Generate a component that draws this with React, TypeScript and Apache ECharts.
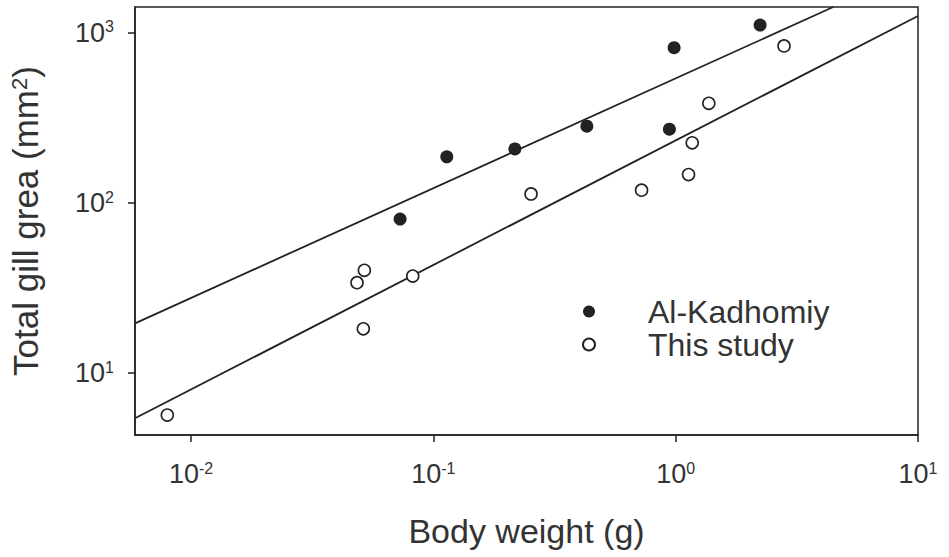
import { useEffect, useRef } from "react";
import * as echarts from "echarts";

// Tick values (powers of ten)
const xTickValues = [0.01, 0.1, 1, 10];
const yTickValues = [10, 100, 1000];

// Axis extents read from the frame
const xMin = 0.00587;
const xMax = 10;
const yMin = 4.32;
const yMax = 1422;

// Al-Kadhomiy (filled circles)
const kadhomiyX = [0.0729, 0.1136, 0.217, 0.43, 0.942, 0.985, 2.23];
const kadhomiyY = [80.5, 187, 208, 283, 272, 820, 1114];

// This study (open circles)
const studyX = [0.00798, 0.0484, 0.0519, 0.0514, 0.0822, 0.253, 0.723, 1.13, 1.17, 1.37, 2.8];
const studyY = [5.66, 34.0, 40.2, 18.2, 37.2, 113, 119, 147, 226, 386, 839];

// Regression lines (end points)
const kadhomiyFitX = [0.00587, 4.47];
const kadhomiyFitY = [19.6, 1422];
const studyFitX = [0.00587, 10];
const studyFitY = [5.42, 1259];

const seriesNames = ["Al-Kadhomiy", "This study"];

const zip = (xs: number[], ys: number[]) => xs.map((x, i) => [x, ys[i]]);

export default function App() {
  const ref = useRef<HTMLDivElement>(null);

  useEffect(() => {
    if (!ref.current) return;
    const chart = echarts.init(ref.current, null, { renderer: "svg" });
    const font = "'Liberation Sans', Arial, Helvetica, sans-serif";
    const ink = "#222";
    const textColor = "#333";

    const powFmt = (v: number) => {
      const l = Math.log10(v);
      const e = Math.round(l);
      if (Math.abs(l - e) > 1e-6) return "";
      return `10{s|${e}}`;
    };

    const labelStyle = {
      fontFamily: font,
      fontSize: 27,
      lineHeight: 28,
      color: textColor,
      rich: {
        s: {
          fontFamily: font,
          fontSize: 16,
          lineHeight: 16,
          verticalAlign: "top",
          color: textColor,
        },
      },
    };

    chart.setOption({
      animation: false,
      backgroundColor: "#fff",
      grid: {
        left: 135,
        right: 31,
        top: 7,
        bottom: 122,
        show: true,
        borderColor: ink,
        borderWidth: 1.5,
        backgroundColor: "transparent",
      },
      legend: {
        orient: "vertical",
        left: 577,
        top: 290,
        padding: 5,
        itemGap: 0,
        itemWidth: 12,
        itemHeight: 12,
        data: seriesNames,
        formatter: "{t|{name}}",
        textStyle: {
          fontFamily: font,
          fontSize: 32,
          lineHeight: 33,
          color: textColor,
          rich: {
            t: {
              fontFamily: font,
              fontSize: 32,
              lineHeight: 33,
              color: textColor,
              padding: [0, 0, 0, 48],
            },
          },
        },
      },
      xAxis: {
        type: "log",
        logBase: 10,
        min: xMin,
        max: xMax,
        name: "Body weight (g)",
        nameLocation: "middle",
        nameGap: 79,
        nameTextStyle: { fontFamily: font, fontSize: 34, color: textColor },
        axisLine: { show: true, lineStyle: { color: ink, width: 1.5 } },
        axisTick: {
          show: true,
          length: 7,
          inside: false,
          customValues: xTickValues,
          lineStyle: { color: ink, width: 1.5 },
        },
        minorTick: { show: false },
        splitLine: { show: false },
        axisLabel: {
          ...labelStyle,
          margin: 25,
          customValues: xTickValues,
          formatter: powFmt,
        },
      },
      yAxis: {
        type: "log",
        logBase: 10,
        min: yMin,
        max: yMax,
        name: "Total gill grea (mm{s|2})",
        nameLocation: "middle",
        nameGap: 92,
        nameRotate: 90,
        nameTextStyle: {
          fontFamily: font,
          fontSize: 35,
          color: textColor,
          rich: {
            s: {
              fontFamily: font,
              fontSize: 22,
              lineHeight: 22,
              verticalAlign: "top",
              color: textColor,
            },
          },
        },
        axisLine: { show: true, lineStyle: { color: ink, width: 1.5 } },
        axisTick: {
          show: true,
          length: 7,
          inside: false,
          customValues: yTickValues,
          lineStyle: { color: ink, width: 1.5 },
        },
        minorTick: { show: false },
        splitLine: { show: false },
        axisLabel: {
          ...labelStyle,
          margin: 21,
          customValues: yTickValues,
          formatter: powFmt,
        },
      },
      series: [
        {
          name: "Al-Kadhomiy fit",
          type: "line",
          data: zip(kadhomiyFitX, kadhomiyFitY),
          showSymbol: false,
          symbol: "none",
          lineStyle: { color: ink, width: 1.8 },
          silent: true,
          z: 1,
        },
        {
          name: "This study fit",
          type: "line",
          data: zip(studyFitX, studyFitY),
          showSymbol: false,
          symbol: "none",
          lineStyle: { color: ink, width: 1.8 },
          silent: true,
          z: 1,
        },
        {
          name: seriesNames[0],
          type: "scatter",
          data: zip(kadhomiyX, kadhomiyY),
          symbol: "circle",
          symbolSize: 13,
          itemStyle: { color: ink, borderColor: ink, borderWidth: 0, opacity: 1 },
          z: 3,
        },
        {
          name: seriesNames[1],
          type: "scatter",
          data: zip(studyX, studyY),
          symbol: "circle",
          symbolSize: 12,
          itemStyle: { color: "#fff", borderColor: ink, borderWidth: 1.6, opacity: 1 },
          z: 3,
        },
      ],
    });

    return () => chart.dispose();
  }, []);

  return (
    <div
      ref={ref}
      style={{ position: "fixed", left: 0, top: 0, width: 949, height: 557, background: "#fff" }}
    />
  );
}
